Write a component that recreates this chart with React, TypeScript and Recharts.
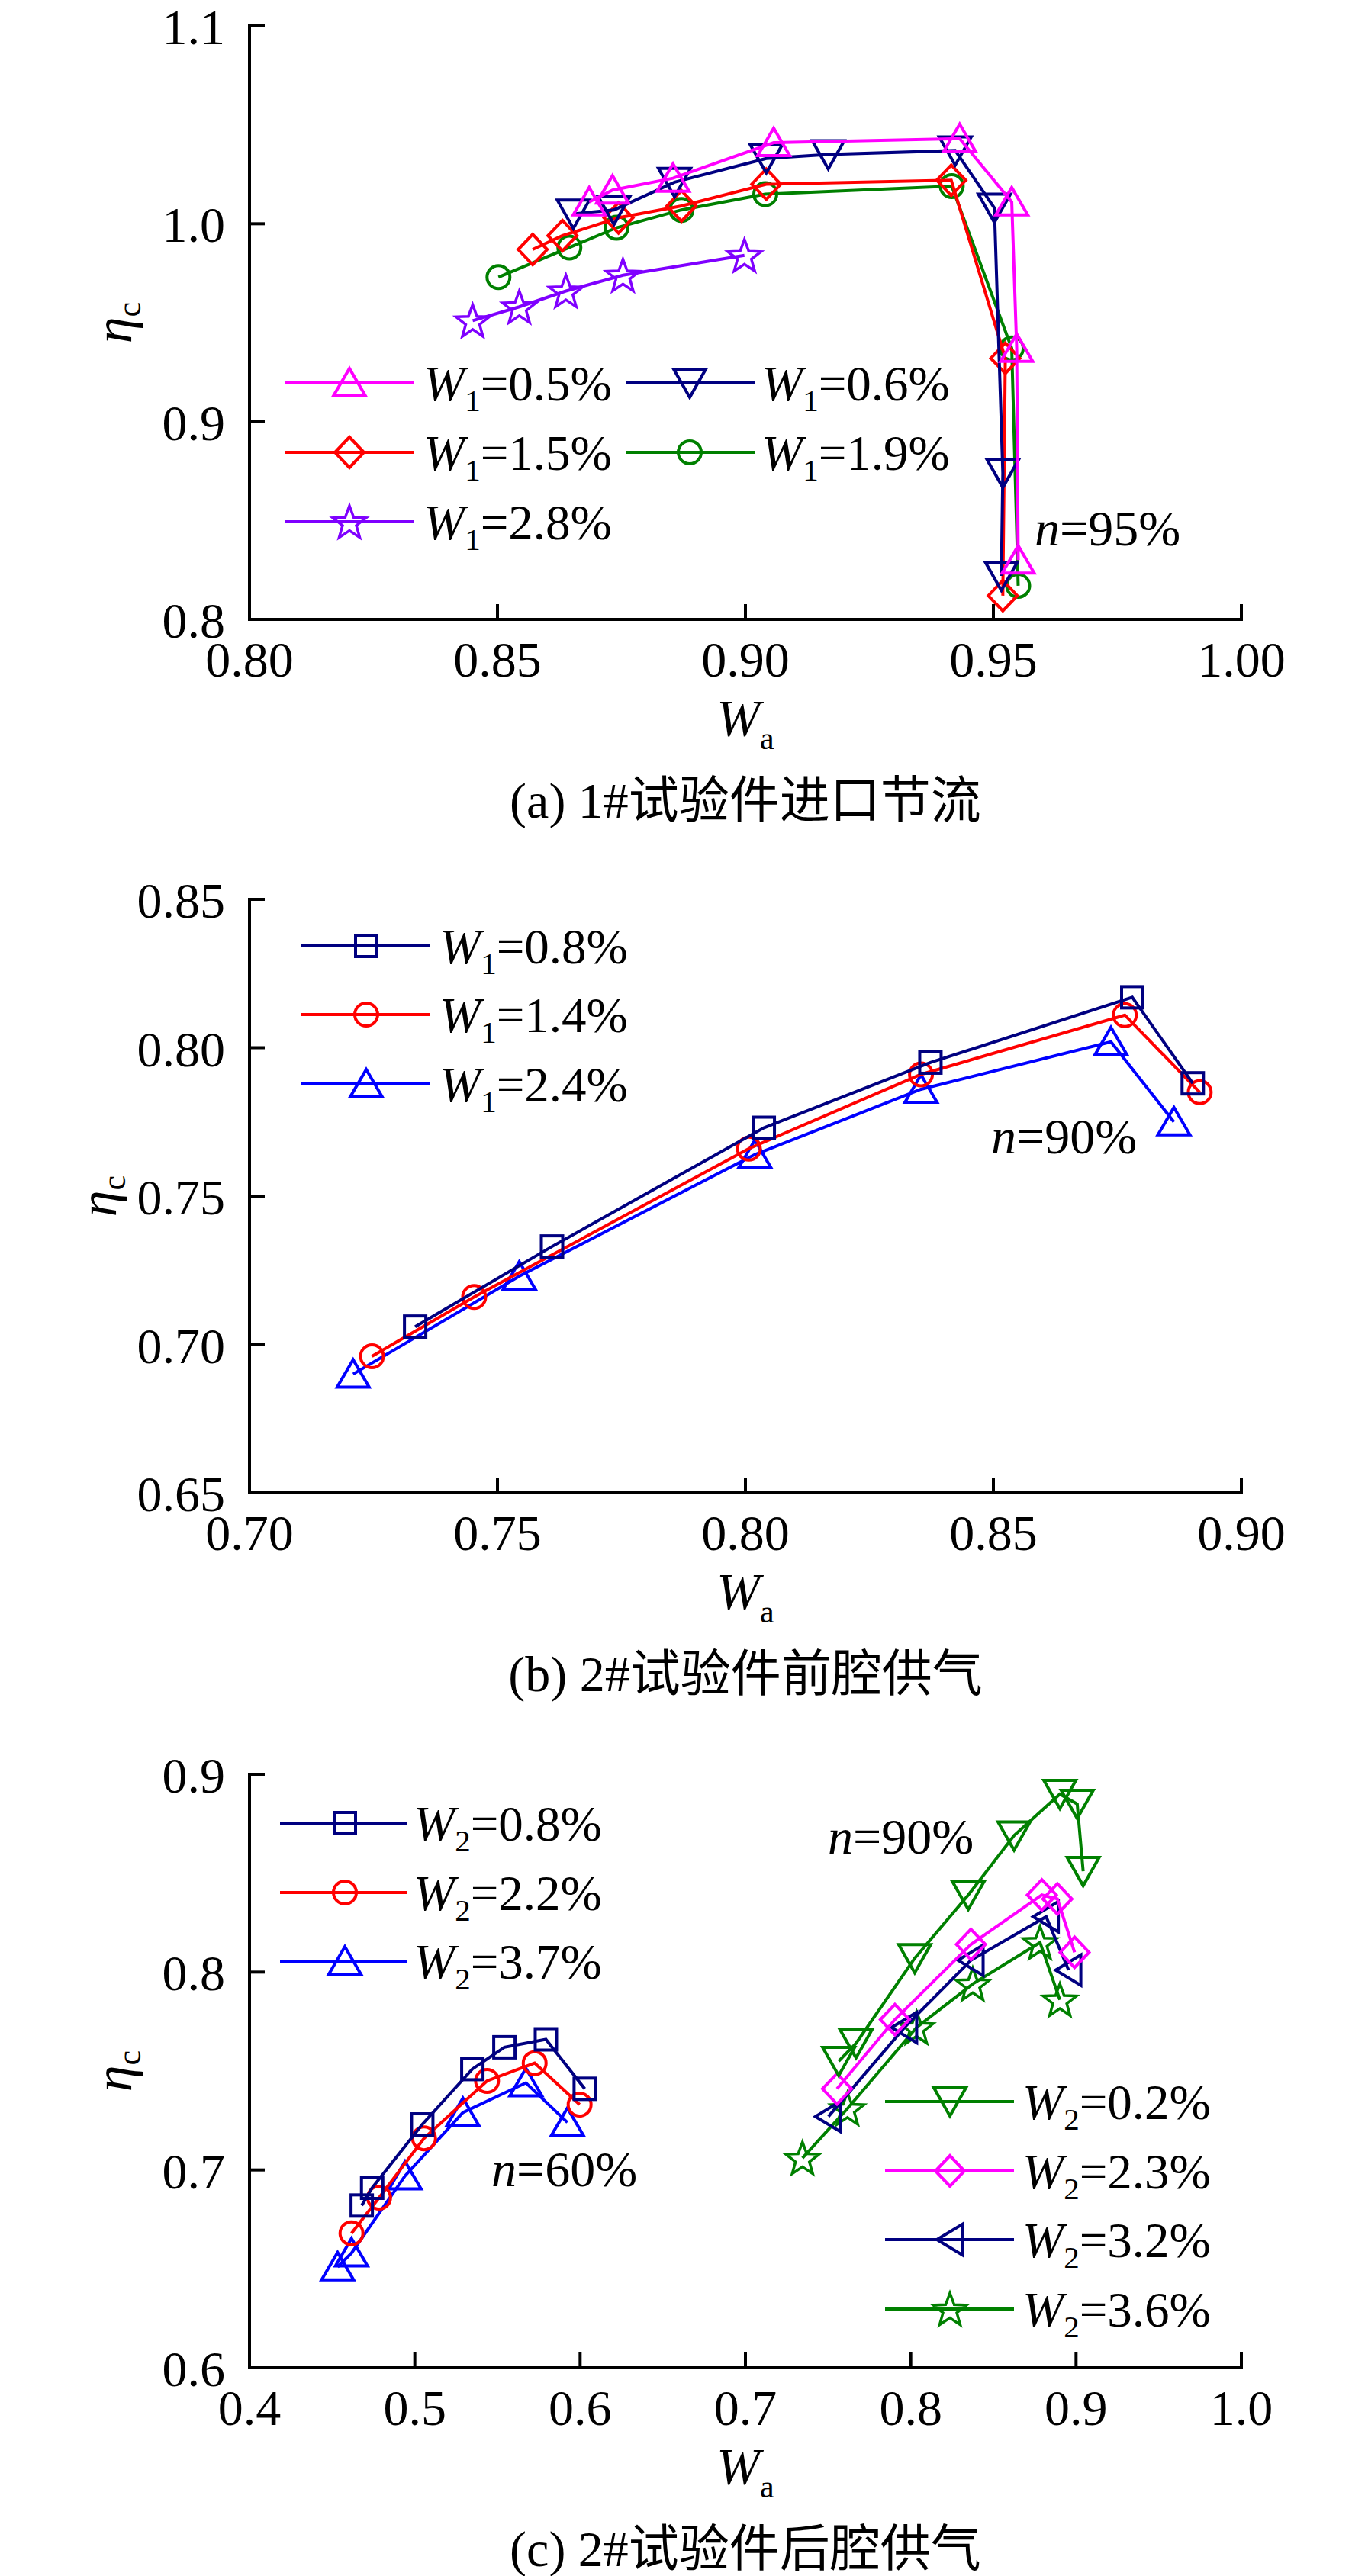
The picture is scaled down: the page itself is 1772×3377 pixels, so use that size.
import { ScatterChart, Scatter, XAxis, YAxis, Legend, Label } from 'recharts'

const FONT = "'Liberation Serif', 'Times New Roman', serif"
const CJK = "'Liberation Serif', 'Noto Sans CJK SC', serif"

const NAVY = '#000080'
const RED = '#ff0000'
const MAGENTA = '#ff00ff'
const GREEN = '#008000'
const PURPLE = '#7f00ff'
const BLUE = '#0000ff'

// (a) 1# inlet throttling, n=95%
const aW05 = [[0.8685, 1.011], [0.8732, 1.017], [0.8854, 1.023], [0.9057, 1.041], [0.9432, 1.043], [0.9537, 1.011], [0.9547, 0.937], [0.955, 0.83]]
const aW06 = [[0.8653, 1.005], [0.8735, 1.007], [0.8857, 1.021], [0.9042, 1.033], [0.9167, 1.035], [0.9423, 1.037], [0.9502, 1.008], [0.9519, 0.874], [0.9516, 0.822]]
const aW15 = [[0.8571, 0.987], [0.8631, 0.994], [0.8744, 1.003], [0.8871, 1.009], [0.9042, 1.02], [0.9415, 1.022], [0.9524, 0.932], [0.9519, 0.812]]
const aW19 = [[0.8502, 0.973], [0.8645, 0.988], [0.874, 0.998], [0.8871, 1.007], [0.904, 1.015], [0.9416, 1.019], [0.9537, 0.937], [0.955, 0.817]]
const aW28 = [[0.845, 0.951], [0.8544, 0.958], [0.8638, 0.966], [0.8753, 0.974], [0.8998, 0.984]]

// (b) 2# front cavity supply, n=90%
const bW08 = [[0.7334, 0.706], [0.761, 0.733], [0.8037, 0.773], [0.8373, 0.795], [0.878, 0.817], [0.8902, 0.788]]
const bW14 = [[0.7247, 0.696], [0.7453, 0.716], [0.8007, 0.766], [0.8354, 0.791], [0.8765, 0.811], [0.8916, 0.785]]
const bW24 = [[0.7209, 0.69], [0.7544, 0.723], [0.8019, 0.764], [0.8354, 0.786], [0.8737, 0.802], [0.8864, 0.775]]

// (c) 2# rear cavity supply, n=60% and n=90%
const cW08 = [[0.4679, 0.682], [0.4742, 0.691], [0.5045, 0.723], [0.5348, 0.751], [0.5542, 0.762], [0.5793, 0.766], [0.6028, 0.741]]
const cW22 = [[0.4617, 0.668], [0.4784, 0.686], [0.5056, 0.716], [0.5437, 0.745], [0.5725, 0.754], [0.5997, 0.733]]
const cW37 = [[0.4533, 0.651], [0.4617, 0.658], [0.4941, 0.697], [0.5291, 0.729], [0.5672, 0.744], [0.5923, 0.724]]
const cW02 = [[0.7564, 0.755], [0.7669, 0.764], [0.8024, 0.807], [0.8348, 0.839], [0.8625, 0.869], [0.8902, 0.89], [0.9007, 0.885], [0.9043, 0.851]]
const cW23 = [[0.7554, 0.741], [0.7904, 0.776], [0.8364, 0.814], [0.8793, 0.839], [0.8887, 0.837], [0.8991, 0.81]]
const cW32 = [[0.7502, 0.727], [0.7962, 0.772], [0.8364, 0.806], [0.8819, 0.828], [0.8955, 0.801]]
const cW36 = [[0.7345, 0.706], [0.7617, 0.731], [0.8035, 0.772], [0.8375, 0.794], [0.8782, 0.815], [0.8902, 0.786]]

const aXTicks = [0.8, 0.85, 0.9, 0.95, 1.0]
const aYTicks = [0.8, 0.9, 1.0, 1.1]
const bXTicks = [0.7, 0.75, 0.8, 0.85, 0.9]
const bYTicks = [0.65, 0.7, 0.75, 0.8, 0.85]
const cXTicks = [0.4, 0.5, 0.6, 0.7, 0.8, 0.9, 1.0]
const cYTicks = [0.6, 0.7, 0.8, 0.9]

type Kind = 'up' | 'down' | 'left' | 'diamond' | 'square' | 'circle' | 'star'

interface Series {
  sub: string
  value: string
  color: string
  kind: Kind
  pts: number[][]
}

interface LegendItem {
  s: Series
  row: number
  x0: number
  x1: number
  mx: number
  tx: number
}

const PAGE_W = 1772
const PLOT_LEFT = 327
const PLOT_W = 1300
const PLOT_H = 778
const MARGIN_TOP = 80
const AXIS = { stroke: '#000', strokeWidth: 4, strokeLinecap: 'square' as const }

function starPoints(cx: number, cy: number, R: number, r: number) {
  const pts: string[] = []
  for (let i = 0; i < 10; i++) {
    const a = -Math.PI / 2 + (i * Math.PI) / 5
    const rad = i % 2 === 0 ? R : r
    pts.push(`${cx + rad * Math.cos(a)},${cy + rad * Math.sin(a)}`)
  }
  return pts.join(' ')
}

function Marker({ cx, cy, kind, color }: { cx: number; cy: number; kind: Kind; color: string }) {
  const common = { fill: 'none', stroke: color, strokeWidth: 4, strokeLinejoin: 'miter' as const }
  if (cx == null || cy == null) return null
  switch (kind) {
    case 'up':
      return <polygon {...common} points={`${cx},${cy - 19} ${cx + 21},${cy + 17} ${cx - 21},${cy + 17}`} />
    case 'down':
      return <polygon {...common} points={`${cx - 21},${cy - 18} ${cx + 21},${cy - 18} ${cx},${cy + 19}`} />
    case 'left':
      return <polygon {...common} points={`${cx - 17},${cy} ${cx + 16},${cy - 20} ${cx + 16},${cy + 20}`} />
    case 'diamond':
      return <polygon {...common} points={`${cx},${cy - 20} ${cx + 19},${cy} ${cx},${cy + 20} ${cx - 19},${cy}`} />
    case 'square':
      return <rect {...common} x={cx - 14} y={cy - 14} width={28} height={28} />
    case 'circle':
      return <circle {...common} cx={cx} cy={cy} r={15} />
    case 'star':
      return <polygon {...common} strokeWidth={3.5} points={starPoints(cx, cy + 2, 23, 9.5)} />
  }
  return null
}

const S = (sub: string, value: string, color: string, kind: Kind, pts: number[][]): Series => ({ sub, value, color, kind, pts })

const sa05 = S('1', '0.5%', MAGENTA, 'up', aW05)
const sa06 = S('1', '0.6%', NAVY, 'down', aW06)
const sa15 = S('1', '1.5%', RED, 'diamond', aW15)
const sa19 = S('1', '1.9%', GREEN, 'circle', aW19)
const sa28 = S('1', '2.8%', PURPLE, 'star', aW28)

const sb08 = S('1', '0.8%', NAVY, 'square', bW08)
const sb14 = S('1', '1.4%', RED, 'circle', bW14)
const sb24 = S('1', '2.4%', BLUE, 'up', bW24)

const sc08 = S('2', '0.8%', NAVY, 'square', cW08)
const sc22 = S('2', '2.2%', RED, 'circle', cW22)
const sc37 = S('2', '3.7%', BLUE, 'up', cW37)
const sc02 = S('2', '0.2%', GREEN, 'down', cW02)
const sc23 = S('2', '2.3%', MAGENTA, 'diamond', cW23)
const sc32 = S('2', '3.2%', NAVY, 'left', cW32)
const sc36 = S('2', '3.6%', GREEN, 'star', cW36)

const L = (s: Series, row: number, x0: number, x1: number, mx: number, tx: number): LegendItem => ({ s, row, x0, x1, mx, tx })

// plotTop / bottom are page pixels of the plot frame
const panels = [
  {
    plotTop: 34,
    bottom: 1140,
    xDomain: [0.8, 1.0],
    yDomain: [0.8, 1.1],
    xTicks: aXTicks,
    yTicks: aYTicks,
    xDec: 2,
    yDec: 1,
    etaX: 172,
    series: [sa28, sa19, sa15, sa06, sa05],
    legend: [
      L(sa05, 502, 373, 543, 458, 555),
      L(sa06, 502, 820, 989, 904, 998),
      L(sa15, 593, 373, 543, 458, 555),
      L(sa19, 593, 820, 989, 904, 998),
      L(sa28, 684, 373, 543, 458, 555),
    ],
    notes: [{ text: '95%', x: 1356, y: 715 }],
    caption: '(a) 1#试验件进口节流',
  },
  {
    plotTop: 1179,
    bottom: 2285,
    xDomain: [0.7, 0.9],
    yDomain: [0.65, 0.85],
    xTicks: bXTicks,
    yTicks: bYTicks,
    xDec: 2,
    yDec: 2,
    etaX: 152,
    series: [sb24, sb14, sb08],
    legend: [
      L(sb08, 1240, 395, 563, 480, 576),
      L(sb14, 1330, 395, 563, 480, 576),
      L(sb24, 1421, 395, 563, 480, 576),
    ],
    notes: [{ text: '90%', x: 1299, y: 1512 }],
    caption: '(b) 2#试验件前腔供气',
  },
  {
    plotTop: 2326,
    bottom: 3377,
    xDomain: [0.4, 1.0],
    yDomain: [0.6, 0.9],
    xTicks: cXTicks,
    yTicks: cYTicks,
    xDec: 1,
    yDec: 1,
    etaX: 172,
    series: [sc37, sc22, sc08, sc36, sc32, sc23, sc02],
    legend: [
      L(sc08, 2390, 367, 533, 452, 542),
      L(sc22, 2481, 367, 533, 452, 542),
      L(sc37, 2571, 367, 533, 452, 542),
      L(sc02, 2755, 1160, 1329, 1245, 1340),
      L(sc23, 2846, 1160, 1329, 1245, 1340),
      L(sc32, 2936, 1160, 1329, 1245, 1340),
      L(sc36, 3027, 1160, 1329, 1245, 1340),
    ],
    notes: [
      { text: '90%', x: 1085, y: 2430 },
      { text: '60%', x: 644, y: 2866 },
    ],
    caption: '(c) 2#试验件后腔供气',
  },
]

function LegendLayer({ items, top, height }: { items: LegendItem[]; top: number; height: number }) {
  return (
    <svg width={PAGE_W} height={height} style={{ position: 'absolute', left: 0, top: 0, overflow: 'visible' }}>
      {items.map((it, i) => {
        const y = it.row - top
        return (
          <g key={i}>
            <line x1={it.x0} y1={y} x2={it.x1} y2={y} stroke={it.s.color} strokeWidth={4} />
            <Marker cx={it.mx} cy={y} kind={it.s.kind} color={it.s.color} />
            <text x={it.tx} y={y + 23} fontFamily={FONT} fontSize={65} fill="#000">
              <tspan fontStyle="italic">W</tspan>
              <tspan fontSize={41} dy={14}>{it.s.sub}</tspan>
              <tspan dy={-14}>={it.s.value}</tspan>
            </text>
          </g>
        )
      })}
    </svg>
  )
}

function Panel({ cfg }: { cfg: (typeof panels)[number] }) {
  const top = cfg.plotTop - MARGIN_TOP
  const H = cfg.bottom - top
  const xAxisH = H - MARGIN_TOP - PLOT_H
  return (
    <div style={{ position: 'absolute', left: 0, top, width: PAGE_W, height: H }}>
      <ScatterChart width={PAGE_W} height={H} margin={{ top: MARGIN_TOP, right: PAGE_W - PLOT_LEFT - PLOT_W, bottom: 0, left: 0 }}>
        <XAxis
          type="number"
          dataKey="x"
          domain={cfg.xDomain}
          ticks={cfg.xTicks}
          interval={0}
          allowDataOverflow
          height={xAxisH}
          tickSize={0}
          tickLine={false}
          axisLine={AXIS}
          tick={(p: any) => (
            <g>
              <line x1={p.x} y1={p.y} x2={p.x} y2={p.y - 22} stroke="#000" strokeWidth={4} />
              <text x={p.x} y={p.y + 73} textAnchor="middle" fontFamily={FONT} fontSize={66} fill="#000">
                {Number(p.payload.value).toFixed(cfg.xDec)}
              </text>
            </g>
          )}
        >
          <Label
            content={(p: any) => {
              const vb = p.viewBox
              const cx = vb.x + vb.width / 2
              return (
                <g>
                  <text x={cx} y={vb.y + 152} textAnchor="middle" fontFamily={FONT} fontSize={68} fill="#000">
                    <tspan fontStyle="italic">W</tspan>
                    <tspan fontSize={42} dy={18}>a</tspan>
                  </text>
                  <text x={cx} y={vb.y + 260} textAnchor="middle" fontFamily={CJK} fontSize={66} fill="#000">
                    {cfg.caption}
                  </text>
                </g>
              )
            }}
          />
        </XAxis>
        <YAxis
          type="number"
          dataKey="y"
          domain={cfg.yDomain}
          ticks={cfg.yTicks}
          interval={0}
          allowDataOverflow
          width={PLOT_LEFT}
          tickSize={0}
          tickLine={false}
          axisLine={AXIS}
          tick={(p: any) => (
            <g>
              <line x1={p.x} y1={p.y} x2={p.x + 22} y2={p.y} stroke="#000" strokeWidth={4} />
              <text x={p.x - 30} y={p.y + 24} textAnchor="end" fontFamily={FONT} fontSize={66} fill="#000">
                {Number(p.payload.value).toFixed(cfg.yDec)}
              </text>
            </g>
          )}
        >
          <Label
            content={(p: any) => {
              const vb = p.viewBox
              const cy = vb.y + vb.height / 2
              return (
                <text x={cfg.etaX} y={cy} transform={`rotate(-90 ${cfg.etaX} ${cy})`} textAnchor="middle" fontFamily={FONT} fontSize={70} fill="#000">
                  <tspan fontStyle="italic">η</tspan>
                  <tspan fontSize={44} dy={12}>c</tspan>
                </text>
              )
            }}
          />
        </YAxis>
        {cfg.series.map((s) => (
          <Scatter
            key={s.sub + s.value + s.kind}
            name={`W${s.sub}=${s.value}`}
            data={s.pts.map(([x, y]) => ({ x, y }))}
            line={{ stroke: s.color, strokeWidth: 4 }}
            lineType="joint"
            shape={(p: any) => <Marker cx={p.cx} cy={p.cy} kind={s.kind} color={s.color} />}
            isAnimationActive={false}
          />
        ))}
        <Legend
          layout="vertical"
          align="center"
          verticalAlign="middle"
          wrapperStyle={{ position: 'absolute', left: 0, top: 0, width: PAGE_W, height: H, pointerEvents: 'none' }}
          content={() => <LegendLayer items={cfg.legend} top={top} height={H} />}
        />
      </ScatterChart>
      <svg width={PAGE_W} height={H} style={{ position: 'absolute', left: 0, top: 0, pointerEvents: 'none' }}>
        {cfg.notes.map((n, i) => (
          <text key={i} x={n.x} y={n.y - top} fontFamily={FONT} fontSize={66} fill="#000">
            <tspan fontStyle="italic">n</tspan>={n.text}
          </text>
        ))}
      </svg>
    </div>
  )
}

export default function App() {
  return (
    <div style={{ position: 'absolute', left: 0, top: 0, width: PAGE_W, height: 3377, background: '#fff', overflow: 'hidden' }}>
      {panels.map((cfg, i) => (
        <Panel key={i} cfg={cfg} />
      ))}
    </div>
  )
}
